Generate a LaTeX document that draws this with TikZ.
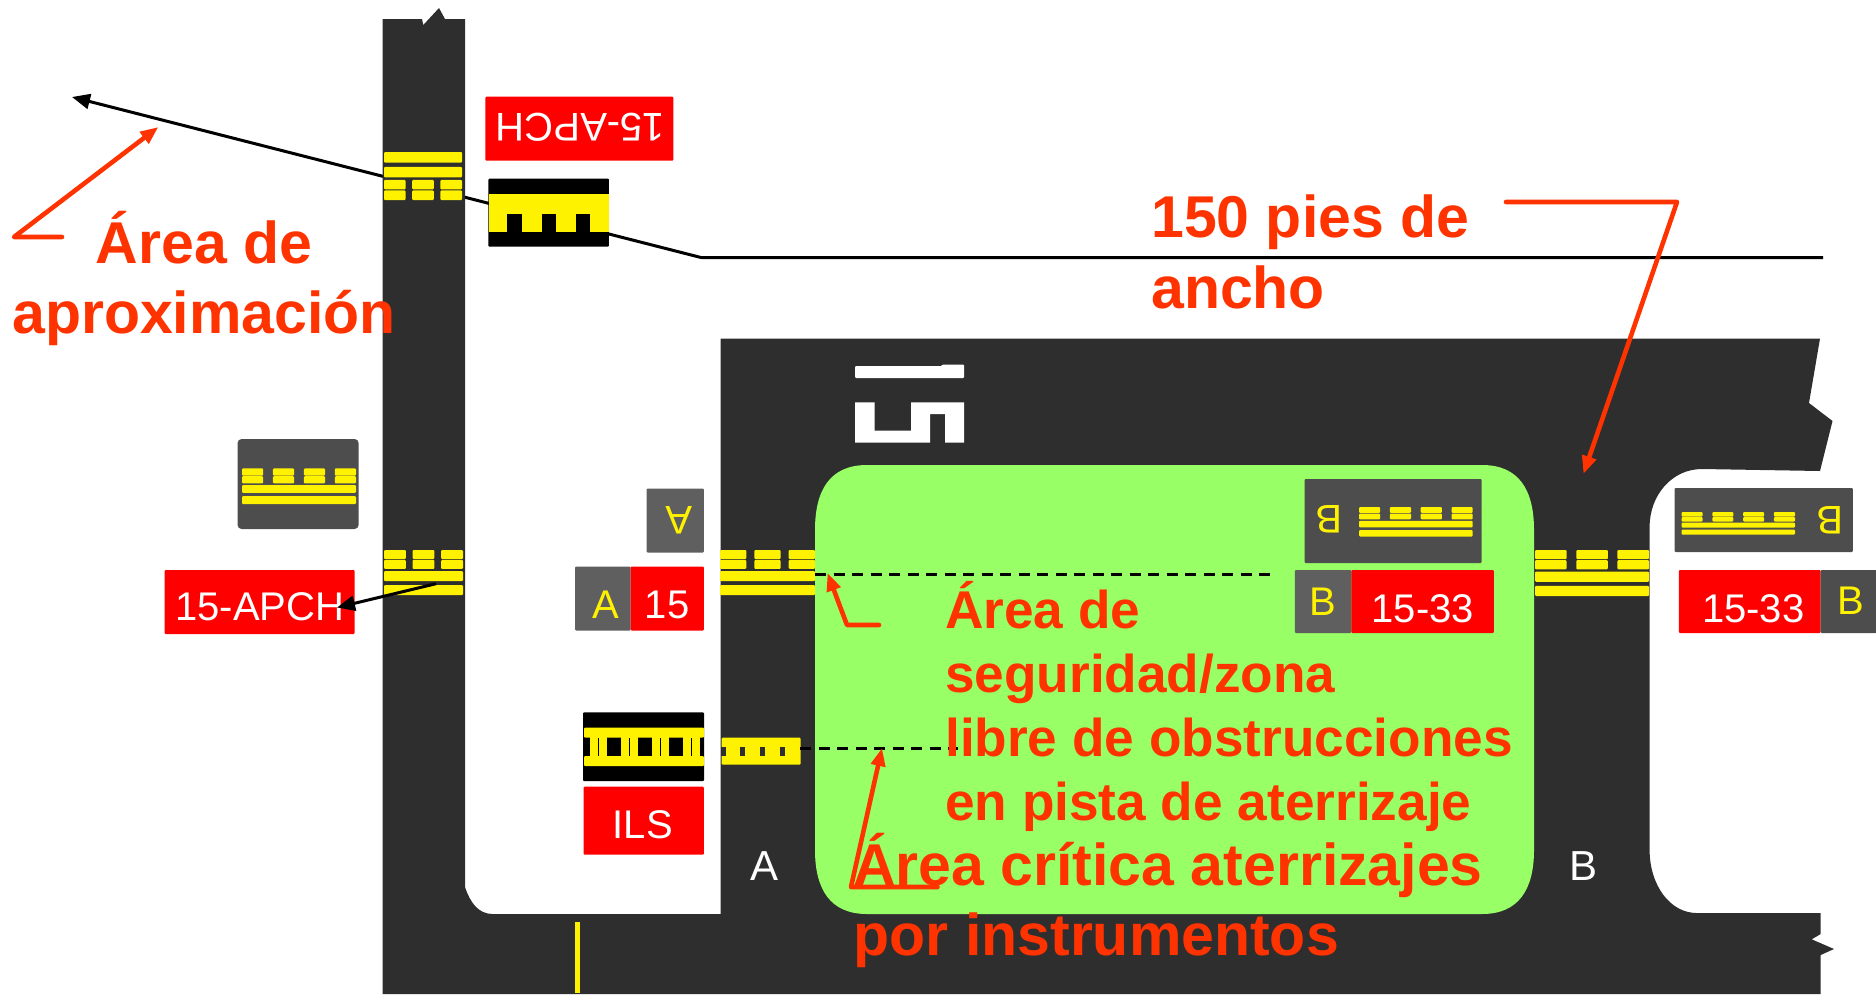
\documentclass[tikz,border=0pt]{standalone}
\usepackage{fontspec}
\setmainfont{Liberation Sans}
\usetikzlibrary{arrows.meta,positioning}
\definecolor{roadgray}{RGB}{46,46,46}
\definecolor{signdark}{RGB}{77,77,77}
\definecolor{signgray}{RGB}{95,95,95}
\definecolor{zonegreen}{RGB}{153,255,102}
\definecolor{labelred}{RGB}{255,51,0}
\tikzset{
    signbox/.style={rectangle, inner sep=0pt, rounded corners=1pt, font=\fontsize{40}{46}\selectfont, text depth=0pt, text height=#1},
    signbox/.default=36pt,
    redsign/.style={signbox=#1, fill=red, text=white},
    redsign/.default=36pt,
    graysign/.style={signbox=#1, fill=signgray, text=yellow},
    graysign/.default=36pt,
    darksign/.style={signbox=#1, fill=signdark, text=yellow},
    darksign/.default=36pt,
    marking/.style={fill=yellow, rounded corners=1pt},
    redarrow/.style={draw=labelred, line width=4.6pt, line cap=round, line join=round, -{Triangle[length=18pt,width=14pt]}},
    blackarrow/.style={draw=black, line width=3pt, -{Triangle[length=18pt,width=15pt]}},
    dashline/.style={draw=black, line width=3pt, dash pattern=on 11pt off 7.5pt},
    biglabel/.style={text=labelred, inner sep=0pt, anchor=base west, align=left, font=\fontsize{59}{71}\selectfont\bfseries},
    zonelabel/.style={biglabel, font=\fontsize{53.2}{64}\selectfont\bfseries},
    roadletter/.style={text=white, inner sep=0pt, font=\fontsize{42}{48}\selectfont}
}
% hold position marking: left, right, top, height, number of dashes
\newcommand{\holdmark}[5]{%
    \pgfmathsetmacro{\markgap}{0.085*(#2-#1)}
    \pgfmathsetmacro{\markdash}{((#2-#1)-(#5-1)*\markgap)/#5}
    \fill[marking] (#1,{#3+0.47*#4}) rectangle (#2,{#3+0.69*#4});
    \fill[marking] (#1,{#3+0.78*#4}) rectangle (#2,{#3+#4});
    \foreach \i in {1,...,#5} {
        \pgfmathsetmacro{\markx}{#1+(\i-1)*(\markdash+\markgap)}
        \fill[marking] (\markx,{#3}) rectangle ({\markx+\markdash},{#3+0.2*#4});
        \fill[marking] (\markx,{#3+0.22*#4}) rectangle ({\markx+\markdash},{#3+0.42*#4});
    }
}
\begin{document}
\begin{tikzpicture}[x=1pt,y=-1pt]
    \useasboundingbox (0,0) rectangle (1876,994);

    % Approach line
    \coordinate (linetip) at (72,97);
    \coordinate (linebend) at (701,257.5);
    \coordinate (lineend) at (1823,257.5);
    \draw[blackarrow] (lineend) -- (linebend) -- (linetip);

    % Pavement
    \fill[roadgray] (382.5,994) -- (382.5,19) -- (422,19) -- (423.3,25) -- (439,8) -- (445,19) -- (465,19)
        -- (465,887) .. controls (470,902) and (478,914) .. (492.6,914) -- (720.7,914) -- (720.7,338.5)
        -- (1820,338.5) -- (1809,403) -- (1832.5,421) -- (1820,471) -- (1702,469)
        .. controls (1672,469) and (1649.6,495) .. (1649.6,527) -- (1649.6,850)
        .. controls (1649.6,885) and (1670,913) .. (1696.7,913) -- (1820.7,913) -- (1820.7,934)
        -- (1811.7,939.3) -- (1834,949) -- (1820.7,955) -- (1820.7,994) -- cycle;

    % Safety area
    \fill[zonegreen] (815,530) .. controls (815,490) and (830,465) .. (867,465) -- (1482,465)
        .. controls (1519,465) and (1534,490) .. (1534,530) -- (1534,850)
        .. controls (1534,889) and (1519,914) .. (1482,914) -- (867,914)
        .. controls (830,914) and (815,889) .. (815,850) -- cycle;

    % Runway number
    \fill[white, rounded corners=1pt] (855,366) -- (942,366) -- (942,364.5) -- (964,364.5) -- (964,378) -- (855,378) -- cycle;
    \fill[white] (855,402.3) -- (874.5,402.3) -- (874.5,430.7) -- (911,430.7) -- (911,402.3) -- (964,402.3) -- (964,442.7)
        -- (945,442.7) -- (945,414) -- (930,414) -- (930,442.7) -- (855,442.7) -- cycle;

    % Markings on the pavement
    \holdmark{384}{462}{200}{-48}{3}
    \holdmark{384}{463}{550}{45}{3}
    \holdmark{720}{815}{550}{45}{3}
    \holdmark{1535}{1649}{550}{46}{3}
    \fill[yellow] (575,922) rectangle (580,993);
    \fill[marking] (721.7,737.7) rectangle (800.7,764.7);
    \foreach \x in {723,742.8,762.5,782.5}
        \fill[roadgray] ({\x-2.5},746.7) rectangle ({\x+2.5},756);

    % Dashed edges
    \coordinate (edgea) at (815,574);
    \coordinate (edgeb) at (1273,574);
    \coordinate (ilsa) at (800,748);
    \coordinate (ilsb) at (958,748);
    \draw[dashline] (edgea) -- (edgeb);
    \draw[dashline] (ilsa) -- (ilsb);

    % Signs
    \node[redsign=31pt, rotate=180, minimum width=188pt, minimum height=64pt] (apchtop) at (579.4,128.7) {15-APCH\hspace*{2pt}};
    \node[redsign, minimum width=190pt, minimum height=64pt] (apchleft) at (259.7,602) {15-APCH};
    \node[graysign=28pt, rotate=180, minimum width=57.3pt, minimum height=64pt] (aflip) at (675.2,520.5) {A\hspace*{7pt}};
    \node[graysign=39pt, minimum width=55.5pt, minimum height=64pt] (agray) at (602.8,598.5) {\hspace*{7pt}A};
    \node[redsign=39pt, minimum width=73.3pt, minimum height=64pt] (afifteen) at (667.2,598.5) {15};
    \node[graysign=28pt, minimum width=56.5pt, minimum height=63pt] (bgray) at (1323.2,601.5) {B};
    \node[redsign=41pt, minimum width=142.5pt, minimum height=63pt] (bcenter) at (1422.7,601.5) {15-33};
    \node[redsign=41pt, minimum width=141.7pt, minimum height=63pt] (bright) at (1749.8,601.5) {\hspace*{7pt}15-33};
    \node[darksign=26pt, minimum width=56pt, minimum height=63pt] (bdark) at (1848.5,601.5) {\hspace*{5pt}B};
    \node[redsign, minimum width=120.2pt, minimum height=68pt] (ils) at (643.7,820.7) {ILS\hspace*{2pt}};

    % Location signs with a marking
    \node[signbox, fill=signdark, rounded corners=4pt, minimum width=121pt, minimum height=90pt] (holdleft) at (298.1,484) {};
    \holdmark{242}{356}{468.4}{35.6}{4}
    \node[signbox, fill=signdark, minimum width=177pt, minimum height=84pt] (holdb) at (1393,521) {};
    \node[signbox=28pt, rotate=180, text=yellow] (holdbletter) at (1329,519) {B};
    \holdmark{1359}{1472.7}{507}{29.5}{4}
    \node[signbox, fill=signdark, minimum width=178.3pt, minimum height=64pt] (holdr) at (1763.8,520) {};
    \node[signbox=28pt, rotate=180, text=yellow] (holdrletter) at (1830,520.7) {B};
    \holdmark{1681.5}{1795}{512}{22.7}{4}

    % Runway holding signs
    \node[signbox, fill=black, minimum width=120.5pt, minimum height=68pt] (holdtop) at (548.7,212.7) {};
    \fill[yellow] (488.5,193.7) rectangle (609,231.7);
    \foreach \x in {507.3,541.8,575.8}
        \fill[black] (\x,214) rectangle ({\x+14.4},231.7);
    \node[signbox, fill=black, minimum width=121pt, minimum height=68.7pt] (holdils) at (643.5,746.7) {};
    \fill[marking] (584,727.7) rectangle (704,737.7);
    \fill[marking] (584,756) rectangle (704,766);
    \foreach \x in {598.5,629.5,660,691} {
        \fill[yellow] ({\x-8.5},737) rectangle ({\x+8.5},757);
        \fill[black] ({\x-0.5},737.7) rectangle ({\x+0.5},756);
    }

    % Letters on the taxiways
    \node[roadletter] (lettera) at (764,866) {A};
    \node[roadletter] (letterb) at (1583,866) {B};

    % Sign pointer
    \coordinate (apchstart) at (436,583.7);
    \coordinate (apchend) at (337,607.5);
    \draw[blackarrow] (apchstart) -- (apchend);

    % Leaders
    \coordinate (appa) at (62,237);
    \coordinate (appb) at (14,237);
    \coordinate (appc) at (158.4,127);
    \draw[redarrow] (appa) -- (appb) -- (appc);
    \coordinate (widtha) at (1506,202);
    \coordinate (widthb) at (1677,202);
    \coordinate (widthc) at (1583.4,474);
    \draw[redarrow] (widtha) -- (widthb) -- (widthc);
    \coordinate (safea) at (879,625);
    \coordinate (safeb) at (847,625);
    \coordinate (safec) at (827.5,573);
    \draw[redarrow] (safea) -- (safeb) -- (safec);
    \coordinate (crita) at (937.5,887);
    \coordinate (critb) at (851,887);
    \coordinate (critc) at (882,748);
    \draw[redarrow] (crita) -- (critb) -- (critc);

    % Labels
    \node[biglabel] (approach) at (95.5,263) {Área de};
    \node[biglabel] (approachb) at (12,333.3) {aproximación};
    \node[biglabel] (width) at (1151,237) {150 pies de};
    \node[biglabel] (widthtwo) at (1151,308) {ancho};
    \node[zonelabel] (zone) at (945,628) {Área de};
    \node[zonelabel] (zoneb) at (945,692) {seguridad/zona};
    \node[zonelabel] (zonec) at (945,756.5) {libre de obstrucciones};
    \node[zonelabel] (zoned) at (945,820.5) {en pista de aterrizaje};
    \node[biglabel] (critical) at (853,885) {Área crítica aterrizajes};
    \node[biglabel] (criticalb) at (853.5,955) {por instrumentos};
\end{tikzpicture}
\end{document}
